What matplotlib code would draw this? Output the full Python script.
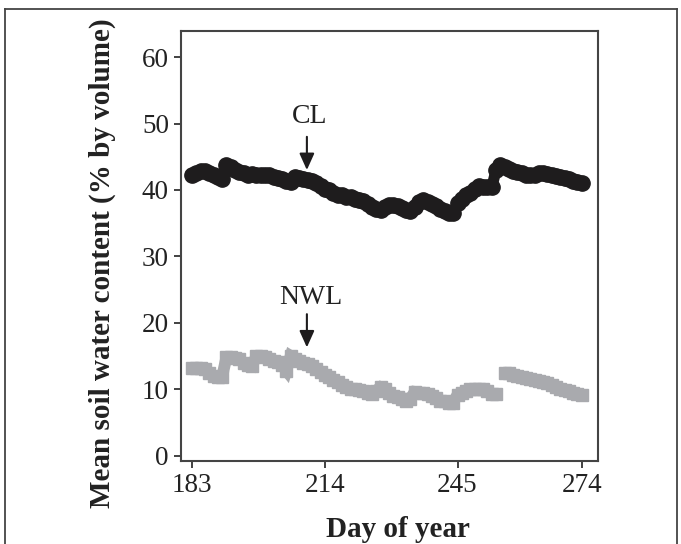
import numpy as np
import matplotlib
matplotlib.use("Agg")
import matplotlib.pyplot as plt
from matplotlib.lines import Line2D

plt.rcParams['font.family'] = ['Liberation Serif', 'DejaVu Serif']

days = list(range(183, 275))

cl = [42.3, 42.6, 42.9, 42.8, 42.5, 42.3, 41.9, 41.6, 43.8, 43.4,
      43.0, 42.7, 42.5, 42.3, 42.4, 42.3, 42.3, 42.2, 42.2, 42.0,
      41.8, 41.6, 41.3, 41.2, 42.0, 41.8, 41.6, 41.5, 41.3, 41.0,
      40.6, 40.2, 40.0, 39.6, 39.3, 39.2, 39.0, 38.9, 38.7, 38.5,
      38.3, 37.9, 37.5, 37.1, 37.0, 37.4, 37.7, 37.8, 37.6, 37.3,
      37.0, 36.9, 37.5, 38.2, 38.5, 38.2, 37.9, 37.6, 37.2, 36.8,
      36.5, 36.6, 38.0, 38.7, 39.2, 39.5, 40.2, 40.6, 40.5, 40.4,
      40.4, 43.0, 43.8, 43.5, 43.2, 42.9, 42.7, 42.5, 42.3, 42.2,
      42.3, 42.6, 42.6, 42.4, 42.2, 42.1, 41.9, 41.8, 41.6, 41.4,
      41.2, 41.0]

nwl = [13.2, 13.2, 13.2, 13.0, 12.5, 12.0, 11.9, 11.9, 14.8, 14.8,
       14.7, 14.5, 14.0, 13.7, 13.5, 15.0, 15.0, 14.8, 14.6, 14.3,
       14.1, 13.6, 12.8, 15.0, 14.6, 14.3, 14.0, 13.8, 13.5, 13.0,
       12.6, 12.2, 11.8, 11.4, 11.1, 10.7, 10.3, 10.1, 10.0, 9.9,
       9.8, 9.5, 9.3, 9.8, 10.3, 10.0, 9.5, 9.0, 8.8, 8.5,
       8.3, 8.6, 9.6, 9.5, 9.4, 9.3, 9.0, 8.7, 8.3, 8.2,
       8.0, 8.0, 9.2, 9.5, 9.8, 10.0, 10.0, 10.0, 10.0, 9.8,
       9.3, 9.3, np.nan, 12.5, 12.4, 12.2, 12.0, 11.9, 11.7, 11.5,
       11.4, 11.3, 11.1, 10.9, 10.7, 10.4, 10.1, 9.9, 9.7, 9.5,
       9.3, 9.2]

xticks = [183, 214, 245, 274]
yticks = [0, 10, 20, 30, 40, 50, 60]

fig = plt.figure(figsize=(6.81, 5.44), dpi=100)
ax = fig.add_axes([0.2665, 0.1526, 0.878 - 0.2665, 0.9439 - 0.1526])

ax.plot(days, nwl, color='#a9aaae', lw=8.5, marker='s', ms=9, mec='#a9aaae',
        mfc='#a9aaae', solid_capstyle='butt', solid_joinstyle='miter')
ax.plot(days, cl, color='#1e1c1d', lw=8, marker='o', ms=11, mec='#1e1c1d',
        mfc='#1e1c1d', solid_joinstyle='round')

ax.set_xlim(180.5, 277.8)
ax.set_ylim(-0.8, 64)
ax.set_xticks(xticks)
ax.set_yticks(yticks)
ax.tick_params(direction='out', length=5, width=1.3, labelsize=19.5,
               colors='#333333', labelcolor='#222222', pad=4)
for s in ax.spines.values():
    s.set_linewidth(1.5)
    s.set_color('#444444')

ax.set_xlabel('Day of year', fontsize=21, fontweight='bold', color='#222222')
ax.set_ylabel('Mean soil water content (% by volume)', fontsize=21,
              fontweight='bold', color='#222222')
ax.xaxis.set_label_coords(0.52, -0.128)
ax.yaxis.set_label_coords(-0.158, 0.46)

arrowprops = dict(arrowstyle='-|>,head_length=1.0,head_width=0.45',
                  color='#1e1c1d', lw=1.5, shrinkA=0, shrinkB=0)
ax.annotate('', xy=(209.8, 43.0), xytext=(209.8, 48.0), arrowprops=arrowprops)
ax.text(210.5, 51.0, 'CL', ha='center', va='center', fontsize=20, color='#222222')
ax.annotate('', xy=(209.8, 16.3), xytext=(209.8, 21.3), arrowprops=arrowprops)
ax.text(210.7, 23.8, 'NWL', ha='center', va='center', fontsize=20, color='#222222')

# outer frame of the figure
for xs, ys in [([5/681, 5/681], [0, 1 - 9/544]),
               ([5/681, 677/681], [1 - 9/544, 1 - 9/544]),
               ([677/681, 677/681], [1 - 9/544, 0])]:
    fig.add_artist(Line2D(xs, ys, transform=fig.transFigure, color='#444444', lw=1.3))

fig.savefig('out.png', dpi=100)
